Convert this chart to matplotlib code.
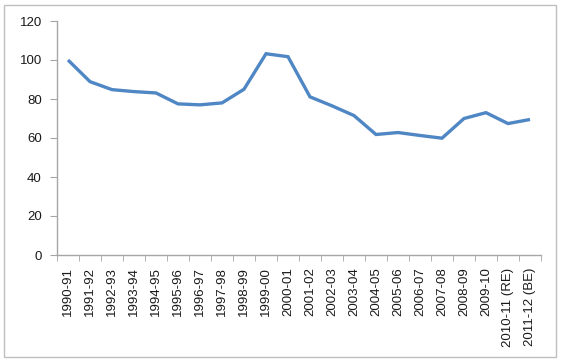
import matplotlib
matplotlib.use("Agg")
import matplotlib.pyplot as plt
from matplotlib.patches import Rectangle

categories = ["1990-91", "1991-92", "1992-93", "1993-94", "1994-95", "1995-96",
              "1996-97", "1997-98", "1998-99", "1999-00", "2000-01", "2001-02",
              "2002-03", "2003-04", "2004-05", "2005-06", "2006-07", "2007-08",
              "2008-09", "2009-10", "2010-11 (RE)", "2011-12 (BE)"]
values = [100.0, 88.9, 84.8, 83.8, 83.1, 77.5, 77.0, 78.0, 85.0, 103.2, 101.7,
          81.1, 76.5, 71.5, 61.8, 62.8, 61.3, 59.9, 70.0, 73.0, 67.4, 69.5]
y_ticks = [0, 20, 40, 60, 80, 100, 120]

plt.rcParams['font.family'] = ['Liberation Sans', 'DejaVu Sans']

W, H = 561, 361
fig = plt.figure(figsize=(W / 100, H / 100), dpi=100)
fig.patches.append(Rectangle((3.5 / W, 4.5 / H), (555.5 - 3.5) / W, (356.5 - 4.5) / H,
                             transform=fig.transFigure, fill=False,
                             edgecolor='#BFBFBF', linewidth=1.0))

left, right, top, bottom = 57, 541, 21, 255
ax = fig.add_axes([left / W, 1 - bottom / H, (right - left) / W, (bottom - top) / H])

x = list(range(len(categories)))
ax.plot(x, values, color='#4F86C4', linewidth=2.4, solid_joinstyle='miter',
        solid_capstyle='butt')

ax.set_xlim(-0.5, len(categories) - 0.5)
ax.set_ylim(0, 120)
ax.set_yticks(y_ticks)
ax.set_xticks(x)
ax.set_xticklabels(categories, rotation=90)
ax.set_xticks([i - 0.5 for i in range(len(categories) + 1)], minor=True)

for s in ['top', 'right']:
    ax.spines[s].set_visible(False)
for s in ['left', 'bottom']:
    ax.spines[s].set_color('#A6A6A6')
    ax.spines[s].set_linewidth(1.0)

ax.tick_params(axis='x', which='major', length=0, pad=9, labelsize=9.5, labelcolor='#1a1a1a')
ax.tick_params(axis='x', which='minor', length=4, color='#A6A6A6', direction='out')
ax.tick_params(axis='y', which='major', length=5, color='#A6A6A6', direction='out',
               labelsize=9.5, labelcolor='#1a1a1a', pad=6)

fig.savefig("out.png", dpi=100)
